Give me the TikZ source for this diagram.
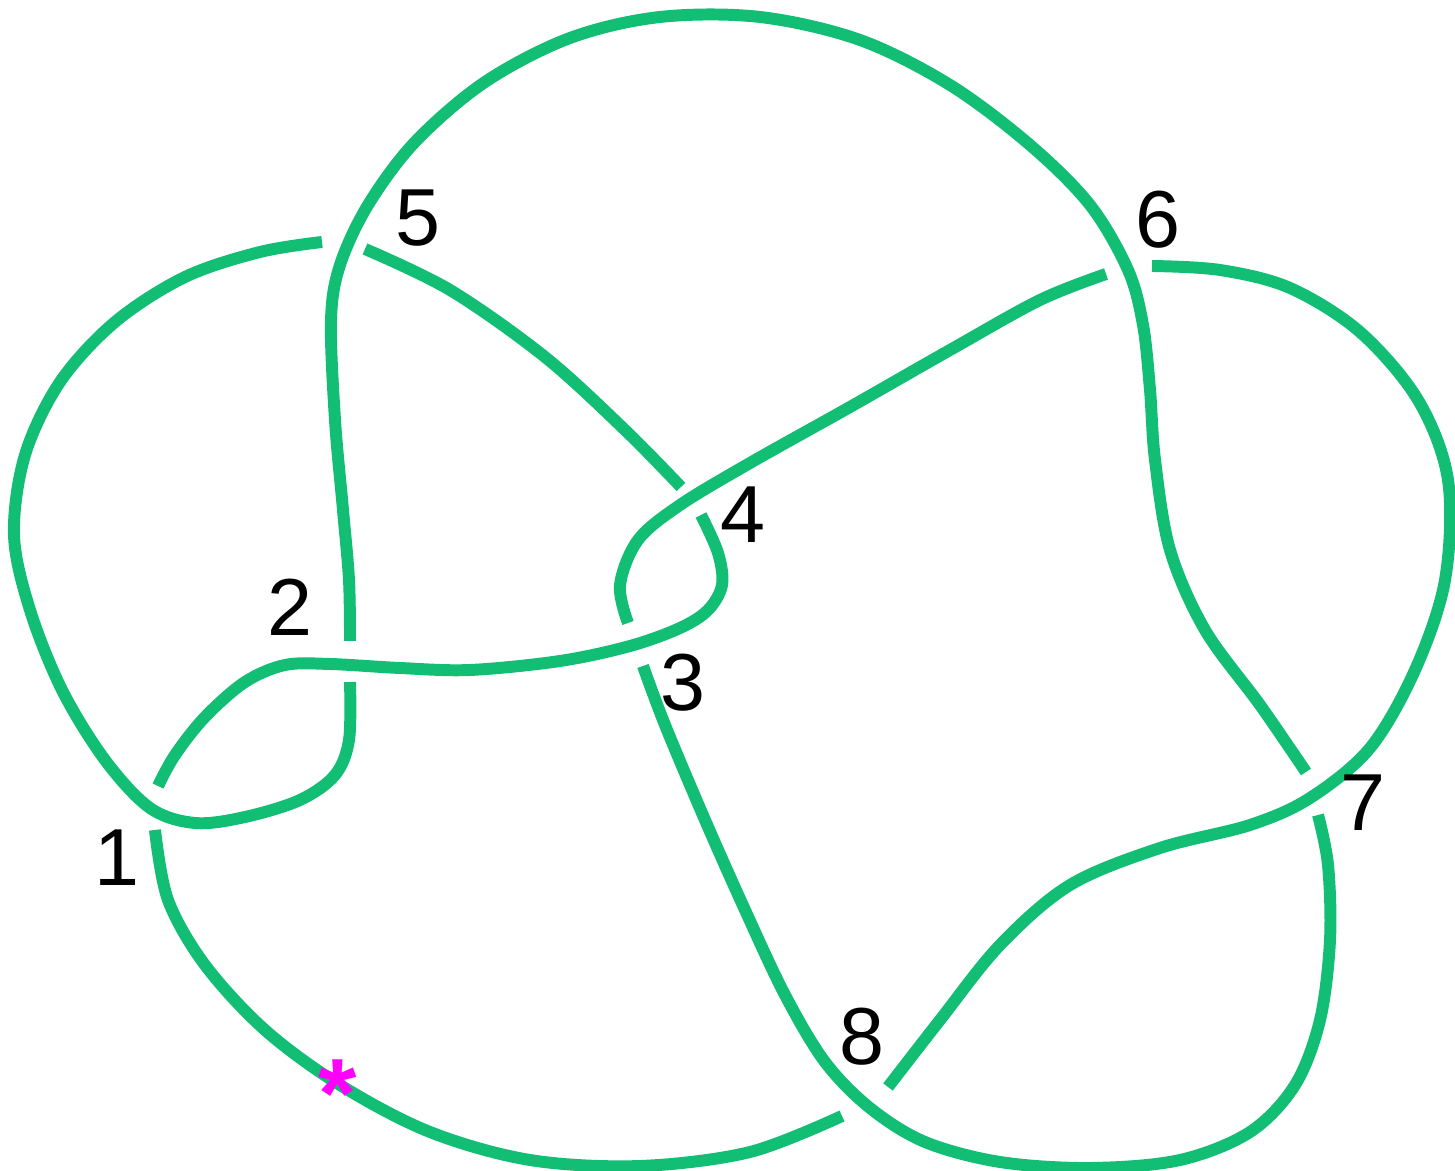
\documentclass[tikz,border=0pt]{standalone}
\usepackage{fontspec}
\setmainfont{Liberation Sans}
\usepackage{tikz}
\usetikzlibrary{calc}
\usepackage{xcolor}
\definecolor{knotgreen}{RGB}{18,189,116}
\definecolor{starpink}{RGB}{255,0,255}

\begin{document}
\begin{tikzpicture}[x=0.01cm, y=-0.01cm,
  strand/.style={knotgreen, line width=3.4pt},
  num/.style={font=\fontsize{23}{26}\selectfont, inner sep=0pt}]
  \useasboundingbox (0,0) rectangle (1455,1171);
  % arcs between under-crossings
  \draw[strand] plot[smooth, tension=0.55] coordinates {(155,830) (168,900) (205,965) (265,1030) (340,1085) (430,1132) (530,1160) (640,1166) (750,1152) (842,1116)};
  \draw[strand] plot[smooth, tension=0.55] coordinates {(888,1087) (940,1020) (1000,945) (1070,885) (1160,848) (1250,825) (1310,798) (1370,748) (1415,670) (1445,580) (1448,480) (1418,400) (1360,332) (1290,288) (1220,270) (1152,266)};
  \draw[strand] plot[smooth, tension=0.55] coordinates {(1106,274) (1040,300) (950,350) (850,407) (750,463) (680,505) (638,540) (620,585) (628,623)};
  \draw[strand] plot[smooth, tension=0.55] coordinates {(643,666) (665,725) (705,820) (745,910) (785,995) (825,1062) (870,1108) (925,1142) (1000,1162) (1090,1168) (1180,1160) (1250,1132) (1295,1085) (1320,1020) (1330,940) (1328,865) (1318,815)};
  \draw[strand] plot[smooth, tension=0.55] coordinates {(1306,772) (1260,705) (1205,630) (1170,550) (1155,460) (1150,390) (1143,325) (1128,270) (1090,205) (1030,145) (950,85) (860,40) (760,17) (660,17) (570,38) (485,82) (415,142) (368,205) (340,265) (331,320) (335,420) (343,510) (349,580) (350,641)};
  \draw[strand] plot[smooth, tension=0.55] coordinates {(350,682) (349,740) (335,775) (300,800) (245,817) (195,823) (150,808) (105,760) (62,690) (30,610) (14,535) (25,455) (60,382) (115,322) (185,277) (260,252) (322,242)};
  \draw[strand] plot[smooth, tension=0.55] coordinates {(365,249) (450,290) (545,357) (625,430) (681,487)};
  \draw[strand] plot[smooth, tension=0.55] coordinates {(701,515) (718,553) (722,585) (708,610) (680,628) (630,646) (560,661) (470,670) (400,668) (330,664) (285,665) (245,682) (205,717) (175,755) (158,786)};
  % crossing numbers
  \node[num] (n1) at (117,858) {1};
  \node[num] (n2) at (290,607) {2};
  \node[num] (n3) at (683,683) {3};
  \node[num] (n4) at (743,515) {4};
  \node[num] (n5) at (418,218) {5};
  \node[num] (n6) at (1158,220) {6};
  \node[num] (n7) at (1363,803) {7};
  \node[num] (n8) at (862,1037) {8};
  % base point
  \node[starpink, font=\fontsize{28}{28}\selectfont\bfseries, inner sep=0pt] (base) at (338,1094) {*};
\end{tikzpicture}
\end{document}
